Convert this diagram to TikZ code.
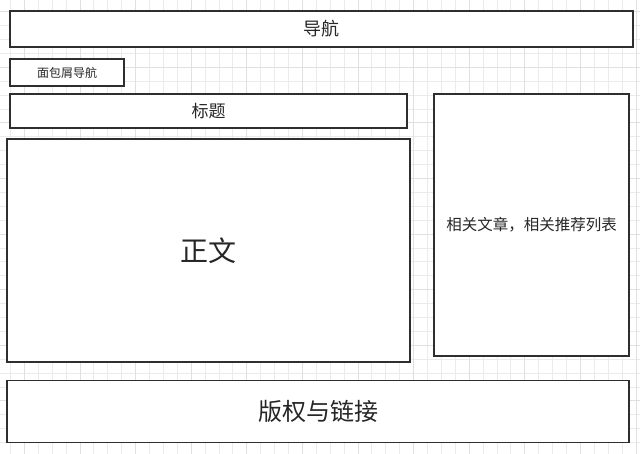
\documentclass[tikz,border=0pt]{standalone}
\usepackage{fontspec}
\newfontfamily\cjk{Noto Sans CJK SC}
\definecolor{gridminor}{HTML}{EBEBEB}
\definecolor{gridmajor}{HTML}{E0E0E0}
\definecolor{boxline}{HTML}{2E2E2E}
\begin{document}
\begin{tikzpicture}[x=1pt,y=-1pt,
  minorline/.style={draw=gridminor,line width=0.7pt},
  majorline/.style={draw=gridmajor,line width=0.8pt},
  layoutbox/.style={draw=boxline,line width=1.7pt,fill=white,rectangle,inner sep=0pt,font=\cjk,text=black!85}]
\useasboundingbox (0,0) rectangle (640,454);
\fill[white] (0,0) rectangle (640,454);
% grid
\foreach \i in {0,...,45} {\draw[minorline] ({10.4+13.9*\i},0) -- ++(0,454);}
\foreach \i in {0,...,32} {\draw[minorline] (0,{11.6+13.9*\i}) -- ++(640,0);}
\foreach \i in {0,...,11} {\draw[majorline] ({24.3+55.6*\i},0) -- ++(0,454);}
\foreach \i in {0,...,8} {\draw[majorline] (0,{11.6+55.6*\i}) -- ++(640,0);}
% boxes
\node[layoutbox,minimum width=623pt,minimum height=36pt,font=\cjk\fontsize{18}{20}\selectfont] (nav) at (321.5,29) {导航};
\node[layoutbox,minimum width=114pt,minimum height=27pt,font=\cjk\fontsize{12}{14}\selectfont] (crumb) at (67,72.5) {面包屑导航};
\node[layoutbox,minimum width=397pt,minimum height=34pt,font=\cjk\fontsize{17}{19}\selectfont] (title) at (208.5,111) {标题};
\node[layoutbox,minimum width=403pt,minimum height=223pt,font=\cjk\fontsize{28}{30}\selectfont] (body) at (208.5,250.5) {正文};
\node[layoutbox,minimum width=195pt,minimum height=262pt,font=\cjk\fontsize{15.5}{17}\selectfont] (side) at (531.5,225) {相关文章，相关推荐列表};
\node[layoutbox,minimum width=622pt,minimum height=62pt,font=\cjk\fontsize{24}{26}\selectfont] (foot) at (318,411.5) {版权与链接};
\end{tikzpicture}
\end{document}
